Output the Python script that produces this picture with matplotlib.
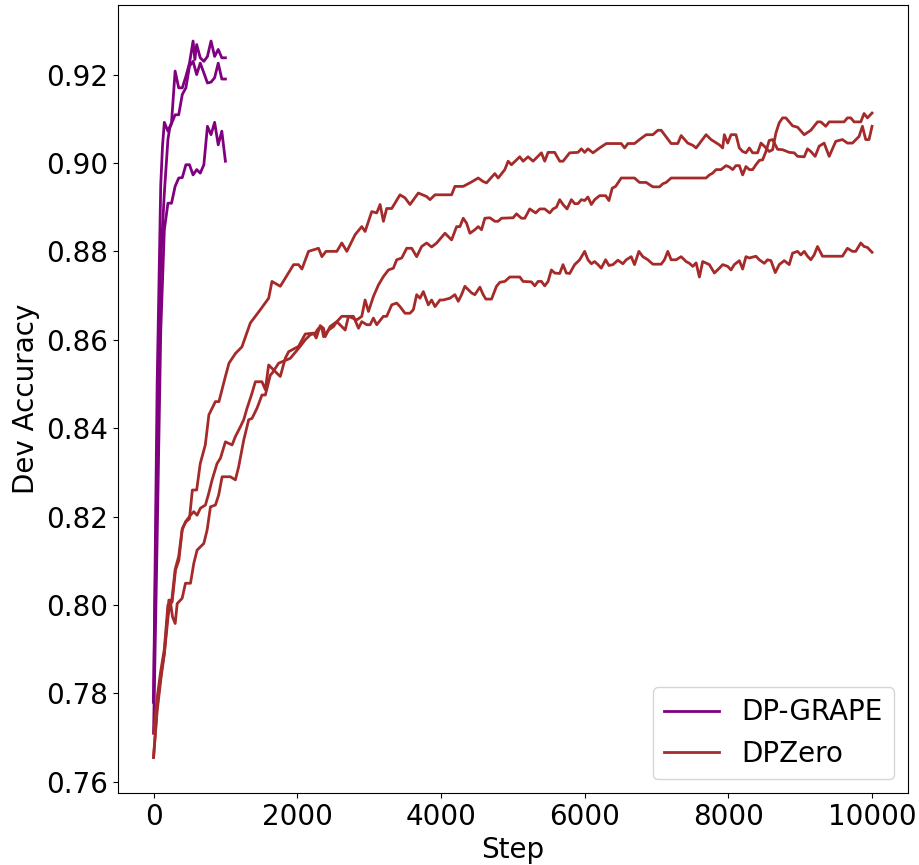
import matplotlib
matplotlib.use("Agg")

import matplotlib.pyplot as plt

# DP-GRAPE runs (eval every ~50 steps up to 1000)
grape_1_steps = [0, 50, 100, 125, 150, 200, 250, 300, 350, 400, 450, 500, 550, 575, 600, 650, 700, 750, 800, 850, 900, 950, 1000]
grape_1_acc = [0.778, 0.850, 0.895, 0.904, 0.9092, 0.9072, 0.9091, 0.9208, 0.917, 0.917, 0.9196, 0.9226, 0.9276, 0.9234, 0.9268, 0.9238, 0.9230, 0.9241, 0.9276, 0.9241, 0.9257, 0.9238, 0.9238]

grape_2_steps = [0, 50, 100, 150, 200, 225, 300, 350, 400, 450, 500, 550, 600, 650, 700, 750, 800, 850, 900, 950, 1000]
grape_2_acc = [0.778, 0.835, 0.878, 0.8932, 0.9053, 0.9079, 0.9109, 0.9109, 0.9155, 0.917, 0.9219, 0.923, 0.920, 0.9226, 0.9204, 0.9181, 0.9183, 0.9193, 0.9226, 0.919, 0.919]

grape_3_steps = [0, 50, 100, 150, 200, 250, 300, 350, 400, 450, 500, 550, 600, 650, 700, 750, 800, 850, 900, 950, 1000]
grape_3_acc = [0.771, 0.815, 0.862, 0.8849, 0.8909, 0.8909, 0.8947, 0.8966, 0.8967, 0.8996, 0.8996, 0.8973, 0.8985, 0.8977, 0.8996, 0.9083, 0.9064, 0.9092, 0.9041, 0.9072, 0.9004]

# DPZero runs
zero_a_steps = [0, 50, 100, 150, 200, 250, 300, 350, 400, 450, 500, 540, 600, 650, 720, 770, 860, 910, 1000, 1050, 1140, 1230, 1347, 1486, 1602, 1648, 1764, 1949, 2018, 2065, 2157, 2296, 2343, 2400, 2551, 2620, 2690, 2806, 2898, 2944, 3037, 3106, 3153, 3199, 3245, 3315, 3430, 3500, 3569, 3685, 3801, 3847, 3917, 4148, 4194, 4310, 4403, 4519, 4588, 4634, 4750, 4796, 4889, 4935, 4981, 5097, 5143, 5213, 5282, 5398, 5444, 5491, 5583, 5653, 5699, 5792, 5907, 5954, 6000, 6046, 6116, 6208, 6301, 6509, 6556, 6602, 6694, 6764, 6856, 6949, 7019, 7065, 7181, 7204, 7296, 7343, 7435, 7505, 7551, 7690, 7759, 7875, 7921, 7944, 7991, 8037, 8106, 8153, 8199, 8245, 8292, 8338, 8407, 8454, 8500, 8569, 8616, 8662, 8708, 8755, 8801, 8894, 8963, 9056, 9148, 9241, 9287, 9356, 9403, 9611, 9657, 9704, 9750, 9843, 9889, 9935, 10000]
zero_a_acc = [0.771, 0.779, 0.785, 0.790, 0.800, 0.8005, 0.808, 0.811, 0.8173, 0.8188, 0.8195, 0.826, 0.826, 0.832, 0.8362, 0.843, 0.846, 0.846, 0.8517, 0.8547, 0.8569, 0.8584, 0.8638, 0.8668, 0.8694, 0.8732, 0.8721, 0.8770, 0.8770, 0.8760, 0.8800, 0.8807, 0.8788, 0.880, 0.880, 0.8819, 0.880, 0.8838, 0.8856, 0.8845, 0.8890, 0.8887, 0.8906, 0.8868, 0.8897, 0.8897, 0.8928, 0.8921, 0.8906, 0.8932, 0.8924, 0.8917, 0.8928, 0.8928, 0.8947, 0.8947, 0.8955, 0.8966, 0.8958, 0.8955, 0.8976, 0.8966, 0.8985, 0.9004, 0.8996, 0.9014, 0.9004, 0.9014, 0.9004, 0.9023, 0.9004, 0.9024, 0.9024, 0.9004, 0.9004, 0.9023, 0.9024, 0.9032, 0.9024, 0.9032, 0.9023, 0.9034, 0.9044, 0.9044, 0.9034, 0.9044, 0.9044, 0.9053, 0.9064, 0.9064, 0.9074, 0.9074, 0.9049, 0.9044, 0.9044, 0.9062, 0.9045, 0.9040, 0.9034, 0.9064, 0.9053, 0.9041, 0.9034, 0.9064, 0.9045, 0.9064, 0.9064, 0.9034, 0.9026, 0.9023, 0.9034, 0.9023, 0.9023, 0.9045, 0.9038, 0.9026, 0.9030, 0.9068, 0.9091, 0.9102, 0.9102, 0.9084, 0.9081, 0.9064, 0.9074, 0.9093, 0.9093, 0.9083, 0.9093, 0.9093, 0.9102, 0.9102, 0.9093, 0.9093, 0.9112, 0.9102, 0.9113]

zero_b_steps = [0, 50, 100, 150, 213, 259, 306, 352, 398, 444, 514, 560, 606, 653, 722, 769, 815, 884, 931, 1000, 1093, 1139, 1208, 1255, 1301, 1370, 1417, 1509, 1556, 1602, 1718, 1764, 1833, 1880, 2018, 2111, 2227, 2264, 2319, 2366, 2389, 2458, 2551, 2620, 2713, 2829, 2898, 2944, 2991, 3060, 3130, 3199, 3269, 3338, 3384, 3454, 3523, 3593, 3662, 3731, 3801, 3870, 3940, 4056, 4148, 4218, 4264, 4310, 4356, 4403, 4472, 4519, 4565, 4611, 4681, 4750, 4796, 4843, 5005, 5051, 5120, 5167, 5236, 5319, 5375, 5444, 5514, 5560, 5607, 5653, 5699, 5755, 5815, 5861, 5907, 5954, 6000, 6046, 6093, 6139, 6208, 6292, 6338, 6384, 6431, 6509, 6694, 6764, 6856, 6949, 7042, 7088, 7134, 7204, 7690, 7736, 7782, 7829, 7898, 7968, 8014, 8060, 8106, 8153, 8199, 8245, 8292, 8338, 8384, 8431, 8477, 8523, 8569, 8616, 8685, 8755, 8847, 8917, 8963, 9056, 9102, 9148, 9208, 9264, 9333, 9403, 9495, 9588, 9657, 9727, 9819, 9866, 9912, 9958, 10000]
zero_b_acc = [0.7655, 0.777, 0.784, 0.789, 0.8011, 0.8007, 0.8079, 0.8101, 0.8169, 0.8188, 0.8203, 0.8211, 0.8203, 0.8219, 0.8226, 0.8253, 0.8283, 0.832, 0.8332, 0.8369, 0.8362, 0.8381, 0.8403, 0.8419, 0.8445, 0.8479, 0.8505, 0.8505, 0.8487, 0.8543, 0.8524, 0.8517, 0.8558, 0.8573, 0.8585, 0.8613, 0.8615, 0.8604, 0.8632, 0.8626, 0.8607, 0.8630, 0.8641, 0.8653, 0.8653, 0.8645, 0.8653, 0.8690, 0.8664, 0.8698, 0.8724, 0.8743, 0.8758, 0.8762, 0.8781, 0.8785, 0.8807, 0.8807, 0.8788, 0.8811, 0.8819, 0.8810, 0.8819, 0.8841, 0.8826, 0.8856, 0.8856, 0.8875, 0.8864, 0.8841, 0.8849, 0.8856, 0.8849, 0.8875, 0.8876, 0.8868, 0.8868, 0.8875, 0.8876, 0.8885, 0.8875, 0.8875, 0.8896, 0.8887, 0.8896, 0.8896, 0.8887, 0.8896, 0.8900, 0.8917, 0.8906, 0.8896, 0.8917, 0.8908, 0.8908, 0.8917, 0.8915, 0.8923, 0.8906, 0.8917, 0.8926, 0.8926, 0.8915, 0.8943, 0.8947, 0.8966, 0.8966, 0.8956, 0.8956, 0.8946, 0.8946, 0.8953, 0.8956, 0.8966, 0.8966, 0.8973, 0.8977, 0.8985, 0.8985, 0.8994, 0.8991, 0.8985, 0.8994, 0.8994, 0.8973, 0.8992, 0.8985, 0.8985, 0.8996, 0.9006, 0.9007, 0.9026, 0.9051, 0.9053, 0.9031, 0.9030, 0.9024, 0.9023, 0.9015, 0.9014, 0.9032, 0.9026, 0.9015, 0.9038, 0.9045, 0.9015, 0.9049, 0.9053, 0.9045, 0.9045, 0.9060, 0.9083, 0.9053, 0.9053, 0.9083]

zero_c_steps = [0, 50, 100, 150, 200, 231, 264, 301, 329, 398, 444, 514, 560, 606, 699, 745, 792, 861, 907, 954, 1069, 1139, 1185, 1255, 1324, 1370, 1440, 1509, 1556, 1625, 1648, 1741, 1903, 2041, 2111, 2180, 2250, 2296, 2343, 2366, 2435, 2505, 2551, 2667, 2713, 2782, 2852, 2898, 2968, 3014, 3060, 3106, 3199, 3245, 3315, 3384, 3430, 3500, 3569, 3616, 3662, 3708, 3755, 3824, 3870, 3917, 3986, 4032, 4125, 4194, 4241, 4287, 4333, 4426, 4472, 4542, 4588, 4625, 4704, 4773, 4819, 4889, 4958, 5097, 5143, 5259, 5306, 5352, 5398, 5444, 5491, 5537, 5583, 5653, 5699, 5745, 5792, 5861, 5931, 6000, 6046, 6093, 6139, 6185, 6231, 6292, 6338, 6394, 6463, 6532, 6579, 6648, 6694, 6755, 6810, 6880, 6949, 7065, 7111, 7157, 7204, 7273, 7343, 7412, 7458, 7505, 7551, 7597, 7643, 7736, 7806, 7875, 7921, 7991, 8037, 8083, 8153, 8199, 8245, 8292, 8384, 8431, 8500, 8546, 8593, 8653, 8708, 8778, 8847, 8894, 8963, 9009, 9056, 9102, 9148, 9194, 9241, 9310, 9588, 9657, 9727, 9773, 9843, 9889, 9935, 10000]
zero_c_acc = [0.7655, 0.776, 0.783, 0.789, 0.797, 0.8011, 0.7973, 0.7958, 0.8003, 0.8015, 0.8049, 0.8049, 0.8094, 0.8124, 0.8139, 0.8169, 0.8222, 0.8226, 0.8249, 0.8290, 0.8290, 0.8283, 0.8313, 0.8373, 0.8419, 0.8422, 0.8445, 0.8475, 0.8475, 0.8520, 0.8524, 0.8547, 0.8558, 0.8585, 0.8600, 0.8611, 0.8615, 0.8626, 0.8626, 0.8607, 0.8622, 0.8630, 0.8641, 0.8622, 0.8653, 0.8653, 0.8626, 0.8641, 0.8634, 0.8634, 0.8649, 0.8634, 0.8653, 0.8653, 0.8679, 0.8683, 0.8675, 0.8660, 0.8660, 0.8668, 0.8702, 0.8694, 0.8709, 0.8679, 0.8690, 0.8675, 0.8690, 0.8690, 0.8694, 0.8702, 0.8687, 0.8702, 0.8721, 0.8706, 0.8702, 0.8719, 0.8702, 0.8692, 0.8692, 0.8721, 0.8730, 0.8732, 0.8742, 0.8742, 0.8732, 0.8731, 0.8722, 0.8732, 0.8732, 0.8722, 0.8732, 0.8758, 0.8751, 0.8750, 0.8770, 0.8751, 0.8750, 0.8770, 0.8781, 0.8800, 0.8781, 0.8772, 0.8777, 0.8770, 0.8762, 0.8781, 0.8768, 0.8770, 0.8780, 0.8772, 0.8781, 0.8788, 0.8770, 0.8800, 0.8788, 0.8781, 0.8771, 0.8771, 0.8781, 0.8800, 0.8781, 0.8781, 0.8788, 0.8777, 0.8773, 0.8766, 0.8774, 0.8742, 0.8777, 0.8770, 0.8751, 0.8762, 0.8770, 0.8766, 0.8758, 0.8770, 0.8779, 0.8760, 0.8788, 0.8785, 0.8789, 0.8781, 0.8773, 0.8781, 0.8779, 0.8752, 0.8770, 0.8779, 0.8770, 0.8796, 0.8800, 0.8792, 0.8800, 0.8789, 0.8781, 0.8792, 0.8811, 0.8789, 0.8789, 0.8807, 0.8800, 0.8800, 0.8819, 0.8811, 0.8809, 0.8798]

grape_color = "purple"
zero_color = "brown"

fig, ax = plt.subplots(figsize=(9.19, 8.65), dpi=100)

ax.plot(grape_1_steps, grape_1_acc, color=grape_color, linewidth=2, label="DP-GRAPE")
ax.plot(grape_2_steps, grape_2_acc, color=grape_color, linewidth=2)
ax.plot(grape_3_steps, grape_3_acc, color=grape_color, linewidth=2)

ax.plot(zero_a_steps, zero_a_acc, color=zero_color, linewidth=2, label="DPZero")
ax.plot(zero_b_steps, zero_b_acc, color=zero_color, linewidth=2)
ax.plot(zero_c_steps, zero_c_acc, color=zero_color, linewidth=2)

ax.set_xlabel("Step", fontsize=20)
ax.set_ylabel("Dev Accuracy", fontsize=20)
ax.tick_params(labelsize=20)
ax.legend(loc="lower right", fontsize=20)

plt.subplots_adjust(left=0.128, right=0.988, top=0.994, bottom=0.083)
plt.savefig("out.png", dpi=100)
